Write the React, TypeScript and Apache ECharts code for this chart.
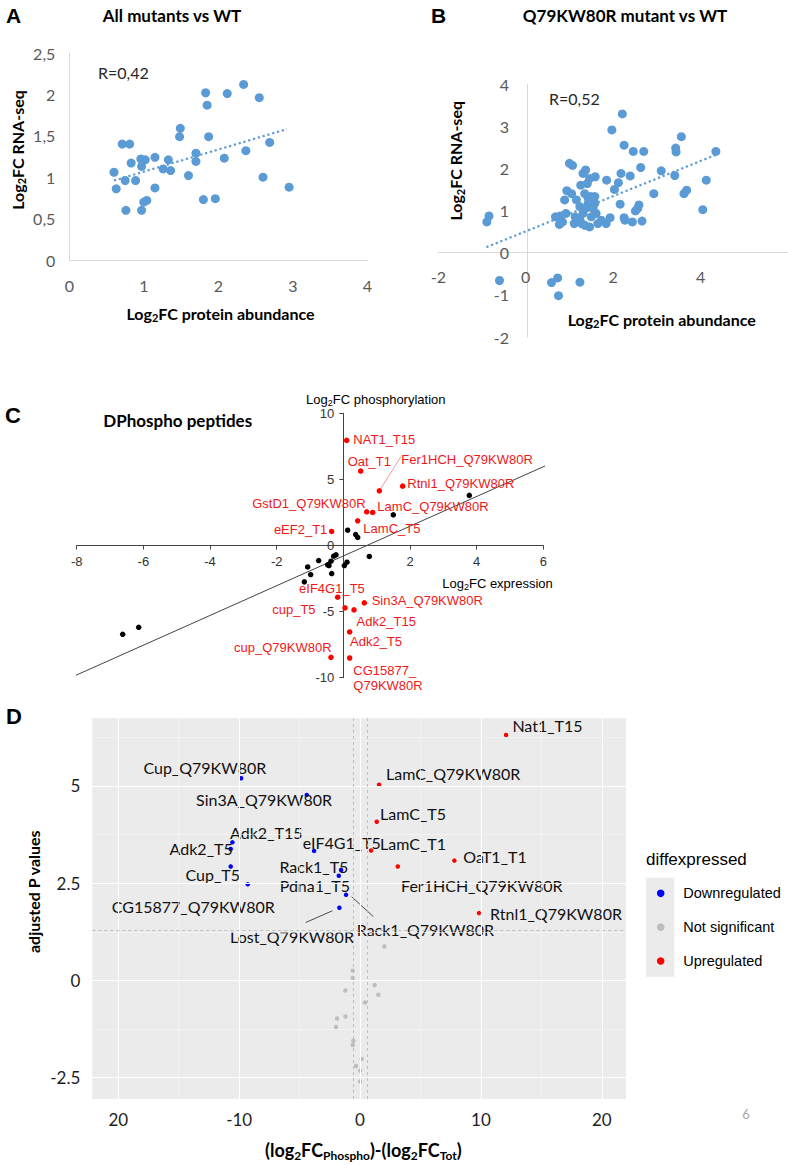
import React, { useEffect, useRef } from "react";
import * as echarts from "echarts";

// ---------------- Panel A: all mutants vs WT ----------------
const aProtein = [0.60, 0.63, 0.71, 0.75, 0.76, 0.81, 0.83, 0.89, 0.96, 0.97, 1.02, 0.97, 1.00, 1.04, 1.15, 1.15, 1.26, 1.33, 1.36, 1.48, 1.49, 1.60, 1.70, 1.70, 1.80, 1.83, 1.85, 1.87, 1.96, 2.08, 2.12, 2.34, 2.37, 2.55, 2.60, 2.69, 2.95];
const aRna = [1.06, 0.86, 1.40, 0.96, 0.60, 1.40, 1.17, 0.96, 1.22, 1.13, 1.21, 0.60, 0.70, 0.72, 1.24, 0.87, 1.10, 1.21, 1.08, 1.49, 1.59, 1.02, 1.29, 1.19, 0.73, 2.02, 1.87, 1.49, 0.74, 1.23, 2.01, 2.12, 1.32, 1.96, 1.00, 1.42, 0.88];
const aTrendProtein = [0.6, 2.92];
const aTrendRna = [0.96, 1.58];

// ---------------- Panel B: Q79KW80R mutant vs WT ----------------
const bProtein = [-0.89, -0.84, -0.60, 0.59, 0.73, 0.75, 1.24, 0.68, 0.79, 0.77, 0.84, 0.92, 0.89, 0.94, 1.05, 1.00, 1.07, 1.13, 1.16, 1.11, 1.24, 1.26, 1.31, 1.37, 1.35, 1.41, 1.46, 1.49, 1.43, 1.37, 1.31, 1.28, 1.35, 1.46, 1.50, 1.58, 1.61, 1.54, 1.59, 1.65, 1.73, 1.84, 1.85, 1.93, 1.97, 2.03, 2.12, 2.16, 2.18, 2.21, 2.25, 2.25, 2.27, 2.39, 2.44, 2.46, 2.51, 2.56, 2.59, 2.63, 2.66, 2.70, 2.93, 3.10, 3.41, 3.43, 3.44, 3.56, 3.62, 3.68, 4.05, 4.13, 4.35, 1.43, 1.52, 1.24, 1.58];
const bRna = [0.73, 0.87, -0.66, -0.71, -0.60, -1.02, -0.70, 0.85, 0.87, 0.67, 0.73, 0.93, 1.25, 1.47, 1.40, 2.12, 2.07, 0.85, 1.25, 0.69, 0.77, 1.60, 1.88, 1.96, 1.40, 1.64, 1.76, 1.33, 1.17, 1.05, 0.93, 0.69, 0.65, 0.61, 0.85, 1.17, 0.93, 1.05, 1.80, 0.69, 0.77, 0.69, 1.72, 0.83, 2.91, 1.50, 1.66, 1.15, 1.88, 3.29, 2.55, 0.83, 0.77, 1.82, 0.73, 2.40, 0.99, 1.05, 1.13, 2.02, 0.75, 2.40, 1.40, 1.94, 1.83, 2.48, 2.39, 2.75, 1.40, 1.48, 1.02, 1.72, 2.40, 1.29, 1.26, 1.09, 1.33];
const bTrendProtein = [-0.9, 4.35];
const bTrendRna = [0.13, 2.32];

// ---------------- Panel C: DPhospho peptides ----------------
const cRedNames = ["NAT1_T15", "Oat_T1", "Fer1HCH_Q79KW80R", "Rtnl1_Q79KW80R", "GstD1_Q79KW80R", "LamC_Q79KW80R", "LamC_T5", "eEF2_T1", "eIF4G1_T5", "Sin3A_Q79KW80R", "cup_T5", "Adk2_T15", "Adk2_T5", "cup_Q79KW80R", "CG15877_\nQ79KW80R"];
const cRedExpr = [0.10, 0.52, 1.08, 1.78, 0.70, 0.88, 0.43, -0.35, -0.17, 0.63, 0.05, 0.32, 0.19, -0.37, 0.19];
const cRedPhos = [7.95, 5.63, 4.14, 4.49, 2.55, 2.50, 1.87, 1.06, -3.91, -4.34, -4.72, -4.87, -6.54, -8.46, -8.51];
const cBlackExpr = [0.13, 0.37, 0.43, 1.50, 3.78, 0.78, -0.22, -0.29, -0.37, -0.43, -0.47, -0.74, -1.07, -0.98, -0.35, -1.17, 0.03, 0.11, -6.14, -6.62];
const cBlackPhos = [1.16, 0.83, 0.61, 2.32, 3.79, -0.83, -0.71, -0.81, -1.19, -1.52, -1.46, -1.14, -1.62, -2.20, -2.12, -2.75, -1.52, -1.26, -6.19, -6.72];
const cFitExpr = [-8.55, 6.5];
const cFitPhos = [-10.41, 6.52];
const cLeaderExpr = [1.08, 1.73];
const cLeaderPhos = [4.14, 6.72];
const cXTicks = [-8, -6, -4, -2, 0, 2, 4, 6];
const cYTicks = [-10, -5, 0, 5, 10];

// ---------------- Panel D: volcano-like plot ----------------
const dDownNames = ["Cup_Q79KW80R", "Sin3A_Q79KW80R", "Adk2_T15", "Adk2_T5", "eIF4G1_T5", "Cup_T5", "CG15877_Q79KW80R", "Rack1_T5", "Pdna1_T5", "Rack1_Q79KW80R", "Lost_Q79KW80R"];
const dDownX = [-9.84, -4.41, -10.56, -10.70, -3.80, -10.70, -9.29, -1.57, -1.76, -1.16, -1.71];
const dDownY = [5.20, 4.77, 3.55, 3.38, 3.33, 2.93, 2.47, 2.84, 2.69, 2.20, 1.87];
const dUpNames = ["Nat1_T15", "LamC_Q79KW80R", "LamC_T5", "LamC_T1", "OaT1_T1", "Fer1HCH_Q79KW80R", "Rtnl1_Q79KW80R"];
const dUpX = [12.08, 1.57, 1.38, 0.91, 7.80, 3.12, 9.84];
const dUpY = [6.31, 5.03, 4.08, 3.34, 3.08, 2.93, 1.73];
const dNsX = [2.01, -0.61, -0.61, 1.21, 1.51, -1.21, 0.41, -1.21, -1.90, -1.99, -0.55, -0.61, 0.14, -0.33, 0.00, 0.00];
const dNsY = [0.87, 0.25, 0.06, -0.12, -0.37, -0.26, -0.57, -0.93, -0.98, -1.20, -1.55, -1.66, -2.02, -2.20, -2.32, -2.60];
const dLeaders = [
  { x: [-0.69, 1.10], y: [2.15, 1.64] },
  { x: [-2.29, -4.49], y: [1.79, 1.49] },
];
const dMajorX = [-20, -10, 0, 10, 20];
const dMinorX = [-15, -5, 5, 15];
const dMajorY = [-2.5, 0, 2.5, 5];
const dMinorY = [-1.25, 1.25, 3.75, 6.25];
const dThresholdX = [-0.6, 0.6];
const dThresholdY = [1.3];
const legendItems = ["Downregulated", "Not significant", "Upregulated"];
const legendColors = ["#0000ff", "#bebebe", "#ff0000"];

// ---------------- label layout (styling, not data) ----------------
type LL = [number, number, "left" | "right"];
const cLabelLayout: Record<string, LL> = {
  "NAT1_T15": [6.7, -1, "left"],
  "Oat_T1": [-13, -10, "left"],
  "Fer1HCH_Q79KW80R": [22, -31, "left"],
  "Rtnl1_Q79KW80R": [4.7, -2.7, "left"],
  "GstD1_Q79KW80R": [-1, -8, "right"],
  "LamC_Q79KW80R": [4.7, -6.3, "left"],
  "LamC_T5": [5.7, 7.7, "left"],
  "eEF2_T1": [-4.3, -2, "right"],
  "eIF4G1_T5": [-38.6, -9, "left"],
  "Sin3A_Q79KW80R": [7.3, -2.3, "left"],
  "cup_T5": [-29.4, 1.7, "right"],
  "Adk2_T15": [2.6, 11.4, "left"],
  "Adk2_T5": [0.4, 9.4, "left"],
  "cup_Q79KW80R": [0.6, -9.4, "right"],
  "CG15877_\nQ79KW80R": [3.7, 20, "left"],
};
const dLabelLayout: Record<string, LL> = {
  "Cup_Q79KW80R": [-97.7, -10.6, "left"],
  "Sin3A_Q79KW80R": [-110.7, 5, "left"],
  "Adk2_T15": [-2.3, -10, "left"],
  "Adk2_T5": [2, 0, "right"],
  "eIF4G1_T5": [-11.3, -8.3, "left"],
  "Cup_T5": [9.3, 8.3, "right"],
  "CG15877_Q79KW80R": [-136, 21.7, "left"],
  "Rack1_T5": [7.3, -3.3, "right"],
  "Pdna1_T5": [11.3, 10, "right"],
  "Rack1_Q79KW80R": [10.7, 34.3, "left"],
  "Lost_Q79KW80R": [-109.3, 29, "left"],
  "Nat1_T15": [6.3, -10, "left"],
  "LamC_Q79KW80R": [7, -11, "left"],
  "LamC_T5": [3.3, -8.4, "left"],
  "LamC_T1": [9, -6.7, "left"],
  "OaT1_T1": [9, -4, "left"],
  "Fer1HCH_Q79KW80R": [3.3, 19, "left"],
  "Rtnl1_Q79KW80R": [11, 0, "left"],
};

// grid boxes (layout)
const gA = { left: 69.3, top: 53, width: 298, height: 207 };
const gB = { left: 438.3, top: 84, width: 355, height: 253 };
const gC = { left: 76.7, top: 413.3, width: 466.6, height: 264.4 };
const gD = { left: 92.3, top: 718.3, width: 533.7, height: 380.7 };

const zip = (xs: number[], ys: number[]) => xs.map((x, i) => [x, ys[i]]);

function labeled(names: string[], xs: number[], ys: number[], layout: Record<string, LL>, font: any) {
  return names.map((name, i) => {
    const [dx, dy, align] = layout[name];
    return {
      name,
      value: [xs[i], ys[i]],
      label: {
        show: true,
        position: "inside",
        offset: [dx, dy],
        align,
        verticalAlign: "middle",
        formatter: "{b}",
        ...font,
      },
    };
  });
}

// pixel distance from the grid's outer edge to the zero line of the other axis
function zeroOffsetX(g: any, min: number, max: number) {
  // for a left y axis: distance from grid left to x=0
  return -((0 - min) / (max - min)) * g.width;
}
function zeroOffsetY(g: any, min: number, max: number) {
  // for a bottom x axis: distance from grid bottom to y=0
  return -((0 - min) / (max - min)) * g.height;
}

const SUB = (size: number, family: string, weight: string, color: string, lh: number) => ({
  b: { fontSize: size, fontFamily: family, fontWeight: weight, color, lineHeight: lh },
  s: { fontSize: Math.round(size * 0.68), fontFamily: family, fontWeight: weight, color, lineHeight: Math.round(lh * 0.5), verticalAlign: "bottom" },
});

function txt(x: number, y: number, text: string, opt: any = {}) {
  const { rotation, rich, font, fill, align } = opt;
  return {
    type: "text",
    x,
    y,
    rotation: rotation || 0,
    silent: true,
    style: {
      text,
      rich,
      font: font || "16px Lato",
      fill: fill || "#000",
      align: align || "center",
      verticalAlign: "middle",
    },
  };
}

function buildOption() {
  const blue = "#5b9bd5";
  const lightAxisLine = { color: "#d9d9d9", width: 1 };
  const gLbl = { color: "#595959", fontFamily: "Lato", fontSize: 16 };
  const cLbl = { color: "#333", fontFamily: "Liberation Sans", fontSize: 13 };
  const dLbl = { color: "#1e1e1e", fontFamily: "Lato", fontSize: 17 };
  const dark = { color: "#444", width: 1 };

  const axisTitleRich = SUB(16, "Lato", "bold", "#000", 20);
  const cNameRich = SUB(13, "Liberation Sans", "normal", "#222", 16);
  const dTitleRich = SUB(18, "Lato", "bold", "#000", 22);

  const gridLines: any[] = [];
  dMajorX.forEach((v) => gridLines.push({ xAxis: v, lineStyle: { color: "#ffffff", width: 1.1, type: "solid" } }));
  dMinorX.forEach((v) => gridLines.push({ xAxis: v, lineStyle: { color: "#f7f7f7", width: 0.6, type: "solid" } }));
  dMajorY.forEach((v) => gridLines.push({ yAxis: v, lineStyle: { color: "#ffffff", width: 1.1, type: "solid" } }));
  dMinorY.forEach((v) => gridLines.push({ yAxis: v, lineStyle: { color: "#f7f7f7", width: 0.6, type: "solid" } }));
  const thresholdLines: any[] = [];
  dThresholdX.forEach((v) => thresholdLines.push({ xAxis: v }));
  dThresholdY.forEach((v) => thresholdLines.push({ yAxis: v }));

  const cFont = { fontFamily: "Liberation Sans", fontSize: 13, color: "#f01818", lineHeight: 15 };
  const dFont = { fontFamily: "Lato", fontSize: 16, color: "#111" };

  const graphic: any[] = [
    // Panel A
    txt(6, 15, "A", { font: "bold 21px 'Liberation Sans'", align: "left" }),
    txt(172, 15, "All mutants vs WT", { font: "bold 17px Lato" }),
    txt(98, 72, "R=0,42", { font: "16px Lato", align: "left", fill: "#262626" }),
    txt(17.3, 150, "{b|Log}{s|2}{b|FC RNA-seq}", { rich: axisTitleRich, rotation: Math.PI / 2 }),
    txt(220.5, 313.3, "{b|Log}{s|2}{b|FC protein abundance}", { rich: axisTitleRich }),
    // Panel B
    txt(431, 15, "B", { font: "bold 21px 'Liberation Sans'", align: "left" }),
    txt(625, 15, "Q79KW80R mutant vs WT", { font: "bold 17px Lato" }),
    txt(549, 98, "R=0,52", { font: "16px Lato", align: "left", fill: "#262626" }),
    txt(455.7, 160.8, "{b|Log}{s|2}{b|FC RNA-seq}", { rich: axisTitleRich, rotation: Math.PI / 2 }),
    txt(661.7, 319.3, "{b|Log}{s|2}{b|FC protein abundance}", { rich: axisTitleRich }),
    // Panel C
    txt(5, 415, "C", { font: "bold 22px 'Liberation Sans'", align: "left" }),
    txt(103.3, 420, "DPhospho peptides", { font: "bold 17px Lato", align: "left" }),
    txt(375.8, 399.3, "{b|Log}{s|2}{b|FC phosphorylation}", { rich: cNameRich }),
    txt(497.5, 583.3, "{b|Log}{s|2}{b|FC expression}", { rich: cNameRich }),
    // Panel D
    txt(6, 716, "D", { font: "bold 22px 'Liberation Sans'", align: "left" }),
    txt(33.3, 891.7, "adjusted P values", { font: "bold 16px Lato", rotation: Math.PI / 2 }),
    txt(363.3, 1150, "{b|(log}{s|2}{b|FC}{s|Phospho}{b|)-(log}{s|2}{b|FC}{s|Tot}{b|)}", { rich: dTitleRich }),
    txt(646, 859.3, "diffexpressed", { font: "17px 'Liberation Sans'", align: "left" }),
    { type: "rect", silent: true, shape: { x: 646, y: 877.7, width: 28.3, height: 99 }, style: { fill: "#ebebeb" } },
    txt(746, 1114, "6", { font: "13px Lato", fill: "#a6a6a6" }),
  ];
  legendItems.forEach((name, i) => {
    const cy = 893.3 + i * 33.85;
    graphic.push({ type: "circle", silent: true, shape: { cx: 660.7, cy, r: 3.8 }, style: { fill: legendColors[i] } });
    graphic.push(txt(683.3, cy, name, { font: "14.5px 'Liberation Sans'", align: "left" }));
  });

  return {
    animation: false,
    backgroundColor: "#ffffff",
    grid: [
      gA,
      gB,
      gC,
      { ...gD, show: true, backgroundColor: "#ebebeb", borderWidth: 0 },
    ],
    xAxis: [
      {
        gridIndex: 0, type: "value", min: 0, max: 4, interval: 1,
        axisLine: { show: true, onZero: false, lineStyle: lightAxisLine },
        axisTick: { show: false }, splitLine: { show: false },
        axisLabel: { ...gLbl, margin: 17 },
      },
      {
        gridIndex: 1, type: "value", min: -2, max: 6, interval: 2,
        offset: zeroOffsetY(gB, -2, 4),
        axisLine: { show: true, onZero: false, lineStyle: lightAxisLine },
        axisTick: { show: false }, splitLine: { show: false },
        axisLabel: { ...gLbl, margin: 16, showMaxLabel: false },
      },
      {
        gridIndex: 2, type: "value", min: cXTicks[0], max: cXTicks[cXTicks.length - 1], interval: 2,
        offset: zeroOffsetY(gC, cYTicks[0], cYTicks[cYTicks.length - 1]),
        axisLine: { show: true, onZero: false, lineStyle: dark },
        axisTick: { show: true, length: 4, lineStyle: dark }, splitLine: { show: false },
        axisLabel: { ...cLbl, margin: 9, formatter: (v: number) => (v === 0 ? "" : String(v)) },
      },
      {
        gridIndex: 3, type: "value", min: -22.15, max: 22,
        axisLine: { show: false },
        axisTick: { show: true, customValues: dMajorX, length: 3, lineStyle: { color: "#333" } },
        splitLine: { show: false },
        axisLabel: { ...dLbl, margin: 12, customValues: dMajorX, formatter: (v: number) => (v === -20 ? "20" : String(v)) },
      },
    ],
    yAxis: [
      {
        gridIndex: 0, type: "value", min: 0, max: 2.5, interval: 0.5,
        axisLine: { show: true, onZero: false, lineStyle: lightAxisLine },
        axisTick: { show: false }, splitLine: { show: false },
        axisLabel: { ...gLbl, margin: 14, formatter: (v: number) => String(v).replace(".", ",") },
      },
      {
        gridIndex: 1, type: "value", min: -2, max: 4, interval: 1,
        offset: zeroOffsetX(gB, -2, 6),
        axisLine: { show: true, onZero: false, lineStyle: lightAxisLine },
        axisTick: { show: false }, splitLine: { show: false },
        axisLabel: { ...gLbl, margin: 18 },
      },
      {
        gridIndex: 2, type: "value", min: cYTicks[0], max: cYTicks[cYTicks.length - 1], interval: 5,
        offset: zeroOffsetX(gC, cXTicks[0], cXTicks[cXTicks.length - 1]),
        axisLine: { show: true, onZero: false, lineStyle: dark },
        axisTick: { show: true, length: 4, lineStyle: dark }, splitLine: { show: false },
        axisLabel: { ...cLbl, margin: 9 },
      },
      {
        gridIndex: 3, type: "value", min: -3.05, max: 6.74,
        axisLine: { show: false },
        axisTick: { show: true, customValues: dMajorY, length: 3, lineStyle: { color: "#333" } },
        splitLine: { show: false },
        axisLabel: { ...dLbl, margin: 12, customValues: dMajorY },
      },
    ],
    series: [
      // A
      { type: "scatter", xAxisIndex: 0, yAxisIndex: 0, data: zip(aProtein, aRna), symbolSize: 9, itemStyle: { color: blue, opacity: 1 }, z: 3 },
      { type: "line", xAxisIndex: 0, yAxisIndex: 0, data: zip(aTrendProtein, aTrendRna), symbol: "none", lineStyle: { color: blue, width: 2.2, type: [2.2, 2.8] }, z: 4 },
      // B
      { type: "scatter", xAxisIndex: 1, yAxisIndex: 1, data: zip(bProtein, bRna), symbolSize: 9, itemStyle: { color: blue, opacity: 1 }, z: 3 },
      { type: "line", xAxisIndex: 1, yAxisIndex: 1, data: zip(bTrendProtein, bTrendRna), symbol: "none", lineStyle: { color: blue, width: 2.2, type: [2.2, 2.8] }, z: 4 },
      // C
      { type: "line", xAxisIndex: 2, yAxisIndex: 2, data: zip(cFitExpr, cFitPhos), symbol: "none", clip: false, lineStyle: { color: "#444", width: 1 }, z: 1 },
      { type: "line", xAxisIndex: 2, yAxisIndex: 2, data: zip(cLeaderExpr, cLeaderPhos), symbol: "none", lineStyle: { color: "#f08080", width: 0.8 }, z: 2 },
      { type: "scatter", xAxisIndex: 2, yAxisIndex: 2, data: zip(cBlackExpr, cBlackPhos), symbolSize: 5.5, itemStyle: { color: "#000", opacity: 1 }, z: 3 },
      { type: "scatter", xAxisIndex: 2, yAxisIndex: 2, data: labeled(cRedNames, cRedExpr, cRedPhos, cLabelLayout, cFont), symbolSize: 5.5, itemStyle: { color: "#ff0000", opacity: 1 }, z: 3 },
      // D gridlines
      {
        type: "line", xAxisIndex: 3, yAxisIndex: 3, data: [], z: 1, silent: true,
        markLine: { silent: true, symbol: ["none", "none"], label: { show: false }, data: gridLines, animation: false },
      },
      {
        type: "line", xAxisIndex: 3, yAxisIndex: 3, data: [], z: 1, silent: true,
        markLine: { silent: true, symbol: ["none", "none"], label: { show: false }, lineStyle: { color: "#b4b4b4", width: 0.8, type: [3, 3] }, data: thresholdLines, animation: false },
      },
      { type: "scatter", xAxisIndex: 3, yAxisIndex: 3, data: zip(dNsX, dNsY), symbolSize: 4.5, itemStyle: { color: "#bebebe", opacity: 1 }, z: 3 },
      ...dLeaders.map((l) => ({ type: "line", xAxisIndex: 3, yAxisIndex: 3, data: zip(l.x, l.y), symbol: "none", lineStyle: { color: "#222", width: 0.8 }, z: 2 })),
      { type: "scatter", xAxisIndex: 3, yAxisIndex: 3, data: labeled(dDownNames, dDownX, dDownY, dLabelLayout, dFont), symbolSize: 4.5, itemStyle: { color: "#0000ff", opacity: 1 }, z: 3 },
      { type: "scatter", xAxisIndex: 3, yAxisIndex: 3, data: labeled(dUpNames, dUpX, dUpY, dLabelLayout, dFont), symbolSize: 4.5, itemStyle: { color: "#ff0000", opacity: 1 }, z: 3 },
    ],
    graphic,
  };
}

export default function App() {
  const ref = useRef<HTMLDivElement>(null);
  useEffect(() => {
    document.body.style.margin = "0";
    const chart = echarts.init(ref.current!, null, { renderer: "svg" });
    chart.setOption(buildOption() as any);
    return () => chart.dispose();
  }, []);
  return <div ref={ref} style={{ width: 788, height: 1165, background: "#fff" }} />;
}
